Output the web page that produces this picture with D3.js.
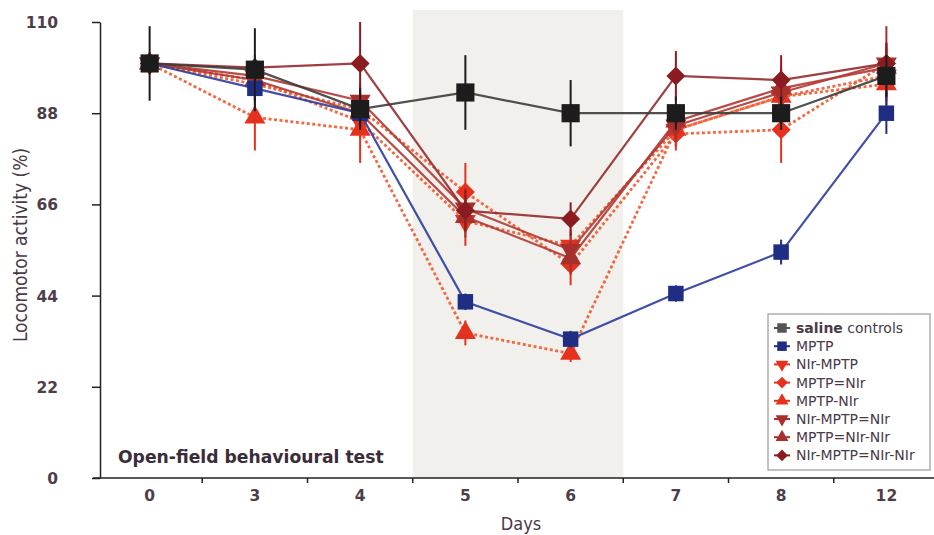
<!DOCTYPE html>
<html lang="en">
    <head>
        <meta charset="utf-8">
        <title>Open-field behavioural test</title>
        <script type="text/javascript" src="https://d3js.org/d3.v7.min.js"></script>
        <style type="text/css">
            body { margin: 0; background: #ffffff; }
            .tick-label { font-family: "DejaVu Sans", sans-serif; font-weight: bold; font-size: 15.5px; fill: #4e3e4a; }
            .legend text { font-family: "DejaVu Sans", sans-serif; font-size: 14px; fill: #4a3a48; }
        </style>
    </head>
    <body>
        <script type="text/javascript">

            // data
            var days = ["0", "3", "4", "5", "6", "7", "8", "12"];
            var yTicks = [0, 22, 44, 66, 88, 110];

            var salineControls   = [100, 98.5, 89, 93, 88, 88, 88, 97];
            var mptp             = [100, 94, 88, 42.5, 33.5, 44.5, 54.5, 88];
            var nirMptp          = [100, 96, 86, 62, 56, 84, 92, 97];
            var mptpEqNir        = [100, 95, 89, 69, 51.5, 83, 84, 100];
            var mptpNir          = [100, 87, 84, 35, 30, 84, 92, 95];
            var nirMptpEqNir     = [100, 97, 91, 65, 55, 85, 93, 100];
            var mptpEqNirNir     = [100, 96, 88, 63, 53, 86, 94, 99];
            var nirMptpEqNirNir  = [100, 99, 100, 64.5, 62.5, 97, 96, 100];

            var salineErr          = [9, 10, 5, 9, 8, 4, 4, 5];
            var mptpErr            = [0, 3, 3, 2, 2, 2, 3, 5];
            var nirMptpErr         = [0, 3, 4, 6, 4, 4, 5, 5];
            var mptpEqNirErr       = [0, 3, 4, 7, 5, 4, 8, 5];
            var mptpNirErr         = [0, 8, 8, 3, 2, 4, 5, 5];
            var nirMptpEqNirErr    = [0, 3, 4, 5, 4, 4, 5, 9];
            var mptpEqNirNirErr    = [0, 3, 4, 5, 4, 4, 5, 5];
            var nirMptpEqNirNirErr = [0, 3, 10, 5, 4, 6, 6, 5];

            var seriesNames = ["saline controls", "MPTP", "NIr-MPTP", "MPTP=NIr", "MPTP-NIr",
                               "NIr-MPTP=NIr", "MPTP=NIr-NIr", "NIr-MPTP=NIr-NIr"];

            // drawing styles per series
            var series = [
                {name: seriesNames[2], values: nirMptp, err: nirMptpErr, color: "#e5321f", line: "#ee5a30", dotted: true, shape: "triDown"},
                {name: seriesNames[3], values: mptpEqNir, err: mptpEqNirErr, color: "#e5321f", line: "#ee5a30", dotted: true, shape: "diamond"},
                {name: seriesNames[4], values: mptpNir, err: mptpNirErr, color: "#e5321f", line: "#ee5a30", dotted: true, shape: "triUp"},
                {name: seriesNames[5], values: nirMptpEqNir, err: nirMptpEqNirErr, color: "#a8302c", line: "#b03a34", dotted: false, shape: "triDown"},
                {name: seriesNames[6], values: mptpEqNirNir, err: mptpEqNirNirErr, color: "#a8302c", line: "#b03a34", dotted: false, shape: "triUp"},
                {name: seriesNames[7], values: nirMptpEqNirNir, err: nirMptpEqNirNirErr, color: "#8a1c20", line: "#962a2c", dotted: false, shape: "diamond"},
                {name: seriesNames[1], values: mptp, err: mptpErr, color: "#1f2d82", line: "#2c3c9c", dotted: false, shape: "square"},
                {name: seriesNames[0], values: salineControls, err: salineErr, color: "#1c1c1c", line: "#3c3c3c", dotted: false, shape: "square"}
            ];
            var legendOrder = [7, 6, 0, 1, 2, 3, 4, 5];

            var w = 934, h = 535;

            var svg = d3.select("body")
                        .append("svg")
                        .attr("width", w)
                        .attr("height", h);

            var x = d3.scaleBand()
                      .domain(days)
                      .range([97, 939])
                      .padding(0);

            var y = d3.scaleLinear()
                      .domain([0, 110])
                      .range([478, 22]);

            // shaded treatment window (days 5-6)
            svg.append("rect")
               .attr("x", x("5"))
               .attr("y", 10)
               .attr("width", x.bandwidth() * 2)
               .attr("height", y(0) - 10)
               .attr("fill", "#f2f0ec");

            // y axis
            var yAxis = d3.axisLeft(y).tickValues(yTicks).tickSize(8).tickSizeOuter(0);
            var yG = svg.append("g")
                        .attr("transform", "translate(100,0)")
                        .call(yAxis);
            yG.select(".domain").attr("stroke", "#222").attr("stroke-width", 1.5);
            yG.selectAll(".tick line").attr("stroke", "#222").attr("stroke-width", 1.5);
            yG.selectAll(".tick text")
              .attr("class", "tick-label")
              .attr("x", -42)
              .attr("text-anchor", "end")
              .attr("dy", "0.35em");

            // x axis: labels at band centres, ticks at band edges
            var xAxis = d3.axisBottom(x).tickSize(0).tickPadding(12);
            var xG = svg.append("g")
                        .attr("transform", "translate(0," + y(0) + ")")
                        .call(xAxis);
            xG.select(".domain").remove();
            xG.selectAll(".tick text").attr("class", "tick-label").attr("dy", "0.71em");
            xG.append("line")
              .attr("x1", 93).attr("x2", 934)
              .attr("stroke", "#222").attr("stroke-width", 1.5);
            xG.selectAll(".edge")
              .data(days.slice(1))
              .enter()
              .append("line")
              .attr("class", "edge")
              .attr("x1", function(d) { return x(d); })
              .attr("x2", function(d) { return x(d); })
              .attr("y1", 0).attr("y2", 5)
              .attr("stroke", "#222").attr("stroke-width", 1.5);

            // axis titles
            svg.append("text")
               .attr("x", 521).attr("y", 530)
               .attr("text-anchor", "middle")
               .style("font-family", "'DejaVu Sans Condensed', 'DejaVu Sans', sans-serif")
               .style("font-size", "18px")
               .attr("fill", "#4a3a48")
               .text("Days");

            svg.append("text")
               .attr("transform", "translate(27,245)rotate(-90)")
               .attr("text-anchor", "middle")
               .style("font-family", "'DejaVu Sans Condensed', 'DejaVu Sans', sans-serif")
               .style("font-size", "19px")
               .attr("fill", "#4a3a48")
               .text("Locomotor activity (%)");

            var cx = function(i) { return x(days[i]) + x.bandwidth() / 2; };

            var symbolPath = function(shape, size) {
                if (shape == "square") return d3.symbol().type(d3.symbolSquare).size(size)();
                if (shape == "diamond") return d3.symbol().type(d3.symbolSquare).size(size * 0.75)();
                return d3.symbol().type(d3.symbolTriangle).size(size * 0.8)();
            };
            var symbolRotate = function(shape) {
                if (shape == "diamond") return 45;
                if (shape == "triDown") return 180;
                return 0;
            };

            var line = d3.line()
                         .x(function(d, i) { return cx(i); })
                         .y(function(d) { return y(d); });

            var layer = svg.append("g");

            series.forEach(function(s) {
                var g = layer.append("g");
                var isBlack = s.name == "saline controls";
                g.append("path")
                 .datum(s.values)
                 .attr("d", line)
                 .attr("fill", "none")
                 .attr("stroke", s.line)
                 .attr("stroke-width", s.dotted ? 2.8 : 2.2)
                 .attr("stroke-dasharray", s.dotted ? "3,2.5" : null)
                 .attr("opacity", 0.9);

                g.selectAll(".err")
                 .data(s.values)
                 .enter()
                 .append("line")
                 .attr("x1", function(d, i) { return cx(i); })
                 .attr("x2", function(d, i) { return cx(i); })
                 .attr("y1", function(d, i) { return y(d + s.err[i]); })
                 .attr("y2", function(d, i) { return y(d - s.err[i]); })
                 .attr("stroke", isBlack ? "#1c1c1c" : s.color)
                 .attr("stroke-width", 2);

                g.selectAll(".mark")
                 .data(s.values)
                 .enter()
                 .append("path")
                 .attr("d", symbolPath(s.shape, isBlack ? 330 : 240))
                 .attr("transform", function(d, i) {
                     return "translate(" + cx(i) + "," + y(d) + ")rotate(" + symbolRotate(s.shape) + ")";
                 })
                 .attr("fill", s.color);
            });

            // panel title
            svg.append("text")
               .attr("x", 118).attr("y", 463)
               .style("font-family", "'DejaVu Sans', sans-serif")
               .style("font-weight", "bold")
               .style("font-size", "17.2px")
               .attr("fill", "#3a2c38")
               .text("Open-field behavioural test");

            // legend
            var legend = svg.append("g").attr("class", "legend");
            legend.append("rect")
                  .attr("x", 768).attr("y", 314)
                  .attr("width", 162).attr("height", 156)
                  .attr("fill", "#ffffff")
                  .attr("stroke", "#9a9a9a")
                  .attr("stroke-width", 1.2);

            legendOrder.forEach(function(si, k) {
                var s = series[si];
                var ly = 328 + k * 18.2;
                var item = legend.append("g");
                item.append("line")
                    .attr("x1", 774).attr("x2", 790)
                    .attr("y1", ly).attr("y2", ly)
                    .attr("stroke", s.name == "saline controls" ? "#555" : s.color)
                    .attr("stroke-width", 2);
                item.append("path")
                    .attr("d", symbolPath(s.shape, 90))
                    .attr("transform", "translate(782," + ly + ")rotate(" + symbolRotate(s.shape) + ")")
                    .attr("fill", s.name == "saline controls" ? "#555" : s.color);
                var t = item.append("text")
                            .attr("x", 796).attr("y", ly)
                            .attr("dy", "0.35em");
                if (s.name == "saline controls") {
                    t.append("tspan").style("font-weight", "bold").text("saline");
                    t.append("tspan").text(" controls");
                } else {
                    t.text(s.name);
                }
            });

        </script>
    </body>
</html>
